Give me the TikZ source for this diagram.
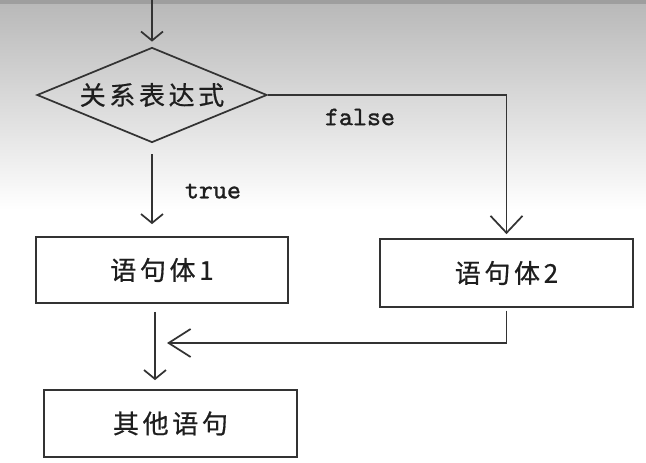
\documentclass[tikz,border=0pt]{standalone}
\usepackage{fontspec}
\newfontfamily\cjk[LetterSpace=14, FakeBold=0.6]{Noto Sans CJK SC}
\newfontfamily\mono[Extension=.otf, FakeBold=1.2]{lmmono10-regular}
\usetikzlibrary{shapes.geometric,arrows.meta}
\definecolor{ln}{HTML}{333333}
\definecolor{tx}{HTML}{1e1e1e}
\tikzset{
  box/.style={draw=ln, line width=1.3pt, rectangle, inner sep=0pt, font=\cjk\fontsize{19.5}{21}\selectfont, text=tx},
  cond/.style={draw=ln, line width=1.3pt, diamond, inner sep=0pt, shape aspect=2.42, minimum width=172.5pt, minimum height=71.25pt, font=\cjk\fontsize{19.5}{21}\selectfont, text=tx},
  lbl/.style={font=\mono\fontsize{20}{22}\selectfont, text=tx, inner sep=0pt},
  conn/.style={draw=ln, line width=1.3pt},
  smalltip/.style={conn, -{Straight Barb[length=6.75pt, width=16.5pt, line width=1.3pt]}},
  bigtip/.style={conn, -{Straight Barb[length=12.75pt, width=24pt, line width=1.3pt]}},
  sidetip/.style={conn, -{Straight Barb[length=16.5pt, width=21pt, line width=1.3pt]}},
}
\begin{document}
\begin{tikzpicture}[x=0.75pt, y=-0.75pt]
\useasboundingbox (0,0) rectangle (646,463);
% background
\fill[white] (0,0) rectangle (646,463);
\shade[top color=black!28, bottom color=white] (0,0) rectangle (646,210);
\fill[black!38] (0,0) rectangle (646,4);
% nodes
\coordinate (start) at (152,0);
\node[cond] (d) at (152,95) {\raisebox{-2pt}{关系表达式}};
\node[box, minimum width=189pt, minimum height=49.5pt] (b1) at (162,270) {语句体1};
\node[box, minimum width=189.75pt, minimum height=51pt] (b2) at (506.5,273) {语句体2};
\node[box, minimum width=189.75pt, minimum height=50.25pt] (b3) at (170.5,423.5) {其他语句};
\coordinate (m) at (155,343);
\node[lbl] (f) at (360,117) {false};
\node[lbl] (t) at (213,191) {true};
% connectors
\draw[smalltip, shorten >=3.75pt] (start) -- (d.north);
\draw[smalltip, shorten <=8.25pt, shorten >=9pt] (d.south) -- (d.south |- b1.north);
\draw[bigtip, shorten >=3pt] (d.east) -| (b2.north);
\draw[smalltip, shorten <=6pt, shorten >=6.75pt] (b1.south -| m) -- (b3.north -| m);
\draw[sidetip, shorten <=2pt, shorten >=9pt] (b2.south) |- (m);
\end{tikzpicture}
\end{document}
